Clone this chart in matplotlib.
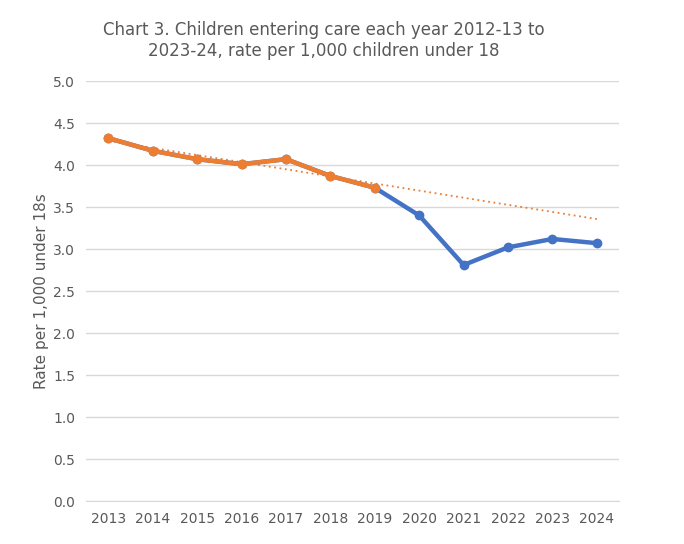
import numpy as np
import matplotlib
matplotlib.use('Agg')
import matplotlib.pyplot as plt

years = ['2013', '2014', '2015', '2016', '2017', '2018', '2019',
         '2020', '2021', '2022', '2023', '2024']
rate_all = [4.32, 4.17, 4.07, 4.01, 4.07, 3.87, 3.73, 3.40, 2.81, 3.02, 3.12, 3.07]
rate_pre = [4.32, 4.17, 4.07, 4.01, 4.07, 3.87, 3.73]

blue = '#4472C4'
orange = '#ED7D31'
grey = '#595959'

plt.rcParams['font.family'] = ['DejaVu Sans']

fig = plt.figure(figsize=(6.84, 5.44), dpi=100)
ax = fig.add_axes([0.126, 0.079, 0.779, 0.772])

x = np.arange(len(years))
ax.plot(x, rate_all, color=blue, linewidth=3.2, marker='o', markersize=6, zorder=3)
ax.plot(x[:len(rate_pre)], rate_pre, color=orange, linewidth=3.2, marker='o', markersize=6, zorder=4)

# linear trend fitted on pre-2020 series, extended to 2024
coef = np.polyfit(x[:len(rate_pre)], rate_pre, 1)
ax.plot(x, np.polyval(coef, x), color=orange, linewidth=1.3, linestyle=(0, (1, 2)), zorder=2)

ax.set_xlim(-0.5, 11.5)
ax.set_ylim(0, 5)
ax.set_yticks(np.arange(0, 5.01, 0.5))
ax.set_yticklabels([f'{v:.1f}' for v in np.arange(0, 5.01, 0.5)])
ax.set_xticks(x)
ax.set_xticklabels(years)
ax.tick_params(length=0, colors=grey, labelsize=10, pad=8)
ax.grid(axis='y', color='#D9D9D9', linewidth=1)
ax.set_axisbelow(True)
for s in ['top', 'right', 'left']:
    ax.spines[s].set_visible(False)
ax.spines['bottom'].set_color('#D9D9D9')

ax.set_ylabel('Rate per 1,000 under 18s', color=grey, fontsize=11, labelpad=3)
fig.text(0.474, 0.925, 'Chart 3. Children entering care each year 2012-13 to\n2023-24, rate per 1,000 children under 18',
         ha='center', va='center', color=grey, fontsize=12, linespacing=1.2)

fig.savefig('out.png', dpi=100)
